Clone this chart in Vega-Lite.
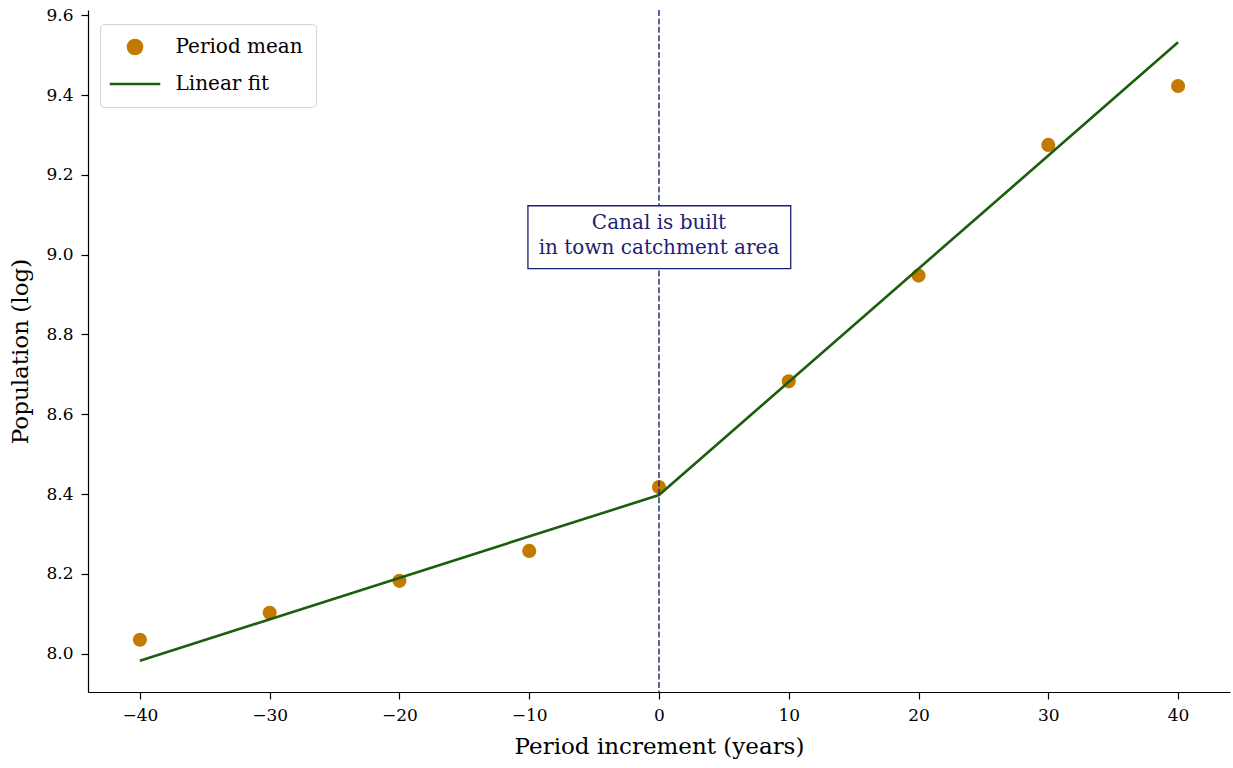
{
  "$schema": "https://vega.github.io/schema/vega-lite/v6.json",
  "width": 1142,
  "height": 682,
  "autosize": {"type": "none"},
  "padding": {"left": 88, "top": 10, "right": 3, "bottom": 76},
  "background": "white",
  "config": {
    "view": {"stroke": null},
    "font": "DejaVu Serif",
    "axis": {
      "grid": false,
      "domainColor": "black",
      "domainWidth": 1.2,
      "tickColor": "black",
      "tickWidth": 1.2,
      "tickSize": 7,
      "labelColor": "black",
      "labelFont": "DejaVu Serif",
      "labelFontSize": 17,
      "labelPadding": 8,
      "titleFont": "DejaVu Serif",
      "titleFontSize": 23,
      "titleFontWeight": "normal",
      "titleColor": "black"
    },
    "legend": {
      "title": null,
      "orient": "none",
      "legendX": 12,
      "legendY": 14,
      "padding": 13,
      "fillColor": "white",
      "strokeColor": "#d3d3d3",
      "cornerRadius": 4,
      "labelFont": "DejaVu Serif",
      "labelFontSize": 20,
      "labelColor": "black",
      "labelOffset": 30.5,
      "symbolOffset": 12,
      "symbolSize": 200,
      "rowPadding": 14
    }
  },
  "datasets": {
    "means": [
      {"increment": -40, "population": 8.035},
      {"increment": -30, "population": 8.1025},
      {"increment": -20, "population": 8.1825},
      {"increment": -10, "population": 8.2575},
      {"increment": 0, "population": 8.4175},
      {"increment": 10, "population": 8.6825},
      {"increment": 20, "population": 8.9475},
      {"increment": 30, "population": 9.275},
      {"increment": 40, "population": 9.4225}
    ],
    "fit": [
      {"increment": -40, "population": 7.9825},
      {"increment": 0, "population": 8.3975},
      {"increment": 40, "population": 9.532}
    ],
    "event": [
      {"increment": 0, "x1": -10.1, "x2": 10.15, "y1": 8.965, "y2": 9.1225, "ylabel": 9.078, "label": "Canal is built\nin town catchment area"}
    ]
  },
  "layer": [
    {
      "data": {"name": "means"},
      "mark": {"type": "point", "filled": true, "size": 200, "opacity": 1},
      "encoding": {
        "x": {
          "field": "increment", "type": "quantitative",
          "scale": {"domain": [-44, 44], "nice": false, "zero": false},
          "axis": {
            "values": [-40, -30, -20, -10, 0, 10, 20, 30, 40],
            "title": "Period increment (years)",
            "titlePadding": 12,
            "labelExpr": "datum.value < 0 ? '\u2212' + abs(datum.value) : datum.label"
          }
        },
        "y": {
          "field": "population", "type": "quantitative",
          "scale": {"domain": [7.904, 9.613], "nice": false, "zero": false},
          "axis": {
            "values": [8.0, 8.2, 8.4, 8.6, 8.8, 9.0, 9.2, 9.4, 9.6],
            "format": ".1f",
            "title": "Population (log)",
            "titlePadding": 13
          }
        },
        "color": {
          "datum": "Period mean",
          "type": "nominal",
          "scale": {"domain": ["Period mean", "Linear fit"], "range": ["#c47a00", "#1b5e0b"]},
          "legend": {
            "encode": {
              "symbols": {
                "update": {
                  "shape": {"signal": "datum.value === 'Linear fit' ? 'stroke' : 'circle'"},
                  "size": {"signal": "datum.value === 'Linear fit' ? 2550 : 200"},
                  "fill": {"signal": "datum.value === 'Linear fit' ? 'transparent' : '#c47a00'"},
                  "stroke": {"signal": "datum.value === 'Linear fit' ? '#1b5e0b' : 'transparent'"},
                  "strokeWidth": {"value": 2.5},
                  "opacity": {"value": 1}
                }
              }
            }
          }
        }
      }
    },
    {
      "data": {"name": "fit"},
      "mark": {"type": "line", "strokeWidth": 2.6},
      "encoding": {
        "x": {"field": "increment", "type": "quantitative"},
        "y": {"field": "population", "type": "quantitative"},
        "color": {
          "datum": "Linear fit",
          "type": "nominal",
          "legend": {
            "encode": {
              "symbols": {
                "update": {
                  "shape": {"signal": "datum.value === 'Linear fit' ? 'stroke' : 'circle'"},
                  "size": {"signal": "datum.value === 'Linear fit' ? 2550 : 200"},
                  "fill": {"signal": "datum.value === 'Linear fit' ? 'transparent' : '#c47a00'"},
                  "stroke": {"signal": "datum.value === 'Linear fit' ? '#1b5e0b' : 'transparent'"},
                  "strokeWidth": {"value": 2.5},
                  "opacity": {"value": 1}
                }
              }
            }
          }
        }
      }
    },
    {
      "data": {"name": "event"},
      "mark": {"type": "rule", "color": "#1c2272", "strokeWidth": 1.4, "strokeDash": [6, 2.4]},
      "encoding": {
        "x": {"field": "increment", "type": "quantitative"}
      }
    },
    {
      "data": {"name": "event"},
      "mark": {"type": "rect", "fill": "white", "stroke": "#1c2272", "strokeWidth": 1.3},
      "encoding": {
        "x": {"field": "x1", "type": "quantitative"},
        "x2": {"field": "x2"},
        "y": {"field": "y1", "type": "quantitative"},
        "y2": {"field": "y2"}
      }
    },
    {
      "data": {"name": "event"},
      "mark": {"type": "text", "font": "DejaVu Serif", "fontSize": 20, "color": "#1c2272", "align": "center", "baseline": "middle", "lineBreak": "\n", "lineHeight": 25},
      "encoding": {
        "x": {"field": "increment", "type": "quantitative"},
        "y": {"field": "ylabel", "type": "quantitative"},
        "text": {"field": "label"}
      }
    }
  ]
}
